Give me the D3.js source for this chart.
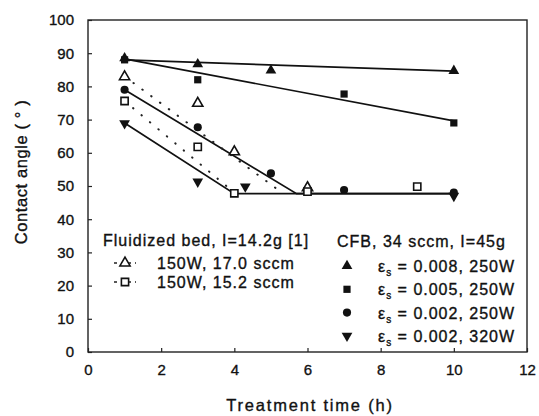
<!DOCTYPE html>
<html>
<head>
<meta charset="utf-8">
<script src="https://cdn.jsdelivr.net/npm/d3@7"></script>
<style>
  body { margin: 0; background: #fff; }
  text { font-family: "Liberation Sans", Arial, sans-serif; fill: #111; stroke: #111; stroke-width: 0.35; }
</style>
</head>
<body>
<div id="vis"></div>
<script>
const width = 539;
const height = 416;

// Measured points (treatment time h, contact angle deg)
const cfb008 = [[1, 88.5], [3, 86.7], [5, 84.8], [10, 84.7]];
const cfb005 = [[1, 88], [3, 82], [7, 77.7], [10, 69]];
const cfb002 = [[1, 79], [3, 67.7], [5, 53.8], [7, 48.8], [10, 48]];
const cfb002hi = [[1, 68.9], [3, 51.3], [4.3, 49.8], [10, 47]];
const fb170 = [[1, 82.9], [3, 74.9], [4, 60.3], [6, 49.5]];
const fb152 = [[1, 75.6], [3, 61.8], [4, 47.8], [6, 48.3], [9, 49.8]];

// Trend lines
const fit008 = [[1, 88], [10, 84.6]];
const fit005 = [[1, 88.3], [10, 69.6]];
const fit002 = [[1, 79], [5.7, 47.7], [10, 47.7]];
const fit002hi = [[1, 69], [4.0, 47.7], [10, 47.7]];
const fitFb170 = [[1, 83], [5.3, 48]];
const fitFb152 = [[1, 75.6], [4, 48]];

const xTicks = [0, 2, 4, 6, 8, 10, 12];
const yTicks = [0, 10, 20, 30, 40, 50, 60, 70, 80, 90, 100];

const svg = d3.select("#vis").append("svg")
  .attr("width", width)
  .attr("height", height);

const x = d3.scaleLinear().domain([0, 12]).range([88, 527]);
const y = d3.scaleLinear().domain([0, 100]).range([352, 20]);

// frame
svg.append("rect")
  .attr("x", x(0)).attr("y", y(100))
  .attr("width", x(12) - x(0)).attr("height", y(0) - y(100))
  .attr("fill", "none").attr("stroke", "#222").attr("stroke-width", 1.4);

// axes with inward ticks
const xAxis = svg.append("g")
  .attr("transform", `translate(0,${y(0)})`)
  .call(d3.axisBottom(x).tickValues(xTicks).tickSize(-4).tickPadding(12));
const yAxis = svg.append("g")
  .attr("transform", `translate(${x(0)},0)`)
  .call(d3.axisLeft(y).tickValues(yTicks).tickSize(-4).tickPadding(14));
[xAxis, yAxis].forEach(g => {
  g.select(".domain").remove();
  g.selectAll(".tick line").attr("stroke", "#222").attr("stroke-width", 1.2);
  g.selectAll(".tick text")
    .attr("font-size", 15)
    .attr("font-family", "Liberation Sans, Arial, sans-serif")
    .attr("fill", "#111");
});

// axis titles
svg.append("text")
  .attr("x", 310).attr("y", 411)
  .attr("text-anchor", "middle").attr("font-size", 16.5)
  .attr("letter-spacing", 1.8)
  .text("Treatment time (h)");
svg.append("text")
  .attr("transform", `translate(27,172) rotate(-90)`)
  .attr("text-anchor", "middle").attr("font-size", 16.5)
  .attr("letter-spacing", 0.6)
  .text("Contact angle ( ° )");

const line = d3.line().x(d => x(d[0])).y(d => y(d[1]));

[fit008, fit005, fit002, fit002hi].forEach(l => {
  svg.append("path").attr("d", line(l))
    .attr("fill", "none").attr("stroke", "#111").attr("stroke-width", 1.7);
});
[fitFb170, fitFb152].forEach(l => {
  svg.append("path").attr("d", line(l))
    .attr("fill", "none").attr("stroke", "#222").attr("stroke-width", 2)
    .attr("stroke-linecap", "round").attr("stroke-dasharray", "0.5,10.5");
});

const sym = {
  up: d3.symbol().type(d3.symbolTriangle).size(50),
  down: d3.symbol().type(d3.symbolTriangle).size(50),
  square: d3.symbol().type(d3.symbolSquare).size(52),
  circle: d3.symbol().type(d3.symbolCircle).size(52),
  openUp: d3.symbol().type(d3.symbolTriangle).size(45),
  openSquare: d3.symbol().type(d3.symbolSquare).size(52)
};

function drawMarker(g, kind, px, py) {
  const p = g.append("path")
    .attr("d", sym[kind]())
    .attr("transform", `translate(${px},${py})` + (kind === "down" ? " rotate(180)" : ""));
  if (kind.startsWith("open")) {
    p.attr("fill", "#fff").attr("stroke", "#111").attr("stroke-width", 1.6);
  } else {
    p.attr("fill", "#111");
  }
}

const series = [
  [fb170, "openUp"], [fb152, "openSquare"],
  [cfb008, "up"], [cfb005, "square"], [cfb002hi, "down"], [cfb002, "circle"]
];
series.forEach(([data, kind]) => {
  data.forEach(d => drawMarker(svg, kind, x(d[0]), y(d[1])));
});

// legend, left block
const legFs = 16;
const legLs = 1;
svg.append("text").attr("x", 103).attr("y", 246).attr("font-size", legFs)
  .attr("letter-spacing", legLs)
  .text("Fluidized bed, I=14.2g [1]");
const leftRows = [["openUp", "150W, 17.0 sccm"], ["openSquare", "150W, 15.2 sccm"]];
leftRows.forEach(([kind, label], i) => {
  const ry = 263 + i * 19;
  svg.append("line").attr("x1", 114).attr("x2", 136).attr("y1", ry).attr("y2", ry)
    .attr("stroke", "#222").attr("stroke-width", 1.5).attr("stroke-dasharray", "3,4");
  drawMarker(svg, kind, 125, ry);
  svg.append("text").attr("x", 157).attr("y", ry + 6).attr("font-size", legFs)
    .attr("letter-spacing", legLs).text(label);
});

// legend, right block
svg.append("text").attr("x", 337).attr("y", 247).attr("font-size", legFs)
  .attr("letter-spacing", legLs)
  .text("CFB, 34 sccm, I=45g");
const rightRows = [["up", "0.008, 250W"], ["square", "0.005, 250W"], ["circle", "0.002, 250W"], ["down", "0.002, 320W"]];
rightRows.forEach(([kind, label], i) => {
  const ry = 266 + i * 23.3;
  drawMarker(svg, kind, 347, ry);
  const t = svg.append("text").attr("x", 378).attr("y", ry + 6).attr("font-size", legFs)
    .attr("letter-spacing", legLs);
  t.append("tspan").text("ε");
  t.append("tspan").attr("dy", 4).attr("font-size", 10).text("s");
  t.append("tspan").attr("dy", -4).text(" = " + label);
});
</script>
</body>
</html>
